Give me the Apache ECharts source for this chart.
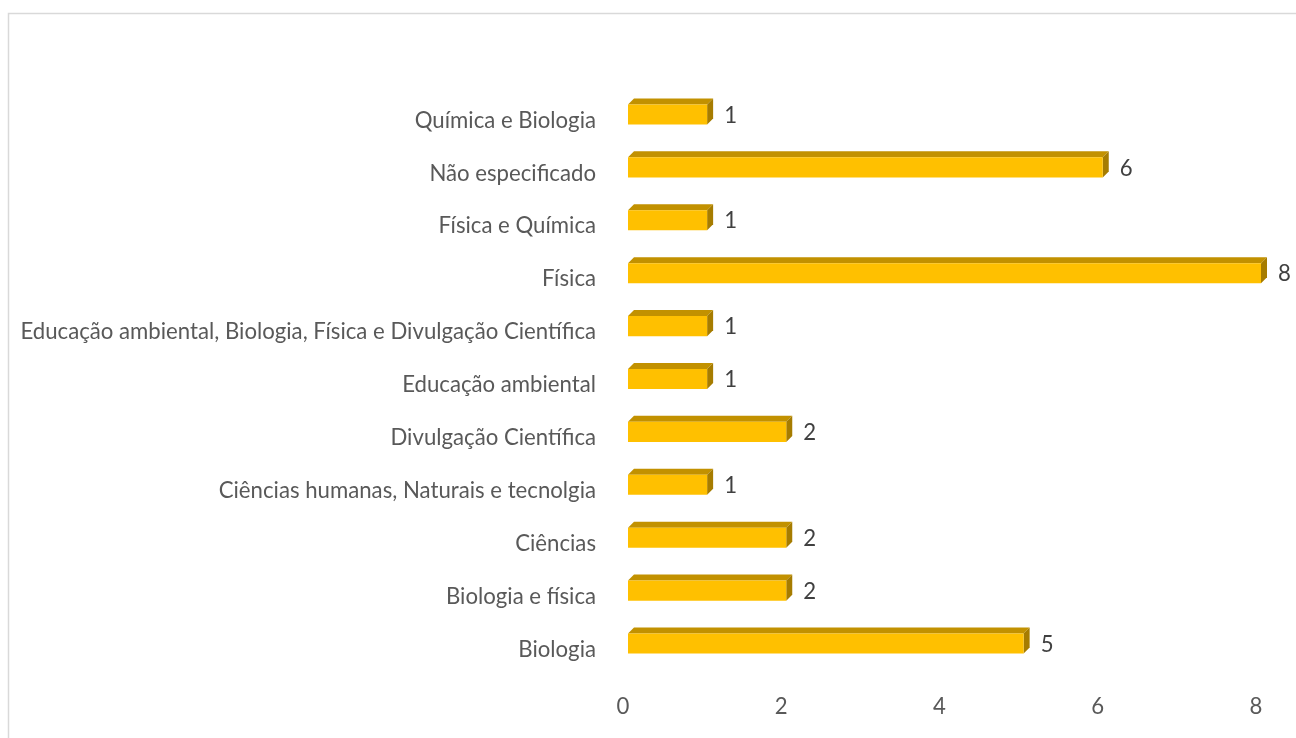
<!DOCTYPE html>
<html><head><meta charset="utf-8">
<script src="https://cdn.jsdelivr.net/npm/echarts@6/dist/echarts.min.js"></script>
<style>html,body{margin:0;padding:0;background:#fff}#c{width:1296px;height:738px}</style>
</head><body><div id="c"></div>
<script>
var categories = ['Biologia','Biologia e física','Ciências','Ciências humanas, Naturais e tecnolgia','Divulgação Científica','Educação ambiental','Educação ambiental, Biologia, Física e Divulgação Científica','Física','Física e Química','Não especificado','Química e Biologia'];
var values = [5,2,2,1,2,1,1,8,1,6,1];
var xTicks = [0,2,4,6,8];

var FONT = 'Lato';
var cv = document.createElement('canvas').getContext('2d');
cv.font = '18px ' + FONT;
var w18 = cv.measureText(categories[6]).width;
var catSize = Math.round(18 * 575 / w18 * 10) / 10;

var chart = echarts.init(document.getElementById('c'));
var D = 6, DV = 6;
chart.setOption({
  backgroundColor: '#fff',
  animation: false,
  graphic: [{type:'rect', shape:{x:8.5,y:13.5,width:1400,height:900}, style:{fill:'none', stroke:'#d9d9d9', lineWidth:1.5}, silent:true}],
  grid: {left:628, right:35, top:88, bottom:68},
  xAxis: {type:'value', min:0, max:8, interval:2,
    axisLine:{show:false}, axisTick:{show:false}, splitLine:{show:false},
    axisLabel:{color:'#595959', fontSize:catSize, fontFamily:FONT, margin:26, padding:[0,10,0,0],
      formatter:function(v){return xTicks.indexOf(v)>=0? String(v):'';}}},
  yAxis: {type:'category', data:categories,
    axisLine:{show:false}, axisTick:{show:false},
    axisLabel:{color:'#595959', fontSize:catSize, fontFamily:FONT, margin:32,
      formatter:function(v){return '{a|' + v + '}';},
      rich:{a:{color:'#595959', fontSize:catSize, fontFamily:FONT, padding:[12,0,0,0]}}}},
  series: [{
    type:'custom',
    data: values.map(function(v,i){return [v,i];}),
    encode:{x:0,y:1},
    renderItem:function(params, api){
      var v = api.value(0), i = api.value(1);
      var s = api.coord([0,i]), e = api.coord([v,i]);
      var bh = api.size([0,1])[1]*0.38;
      var x0 = s[0], x1 = e[0], yt = s[1]-bh/2, yb = s[1]+bh/2;
      return {type:'group', children:[
        {type:'polygon', shape:{points:[[x0,yt],[x1,yt],[x1+D,yt-DV],[x0+D,yt-DV]]}, style:{fill:'#C29100'}},
        {type:'polygon', shape:{points:[[x1,yt],[x1+D,yt-DV],[x1+D,yb-DV],[x1,yb]]}, style:{fill:'#A67C00'}},
        {type:'rect', shape:{x:x0,y:yt,width:x1-x0,height:bh}, style:{fill:'#FFC000'}},
        {type:'text', x:x1+D+11, y:s[1]+1, style:{text:String(v), fill:'#404040', font:catSize+'px '+FONT, textVerticalAlign:'middle', verticalAlign:'middle'}}
      ]};
    }
  }]
});
</script></body></html>
